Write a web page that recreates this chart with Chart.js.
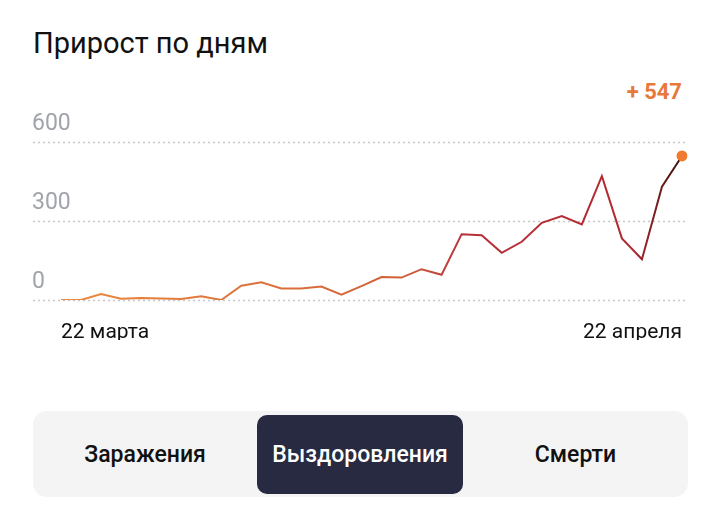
<!DOCTYPE html>
<html><head><meta charset="utf-8">
<script src="https://cdn.jsdelivr.net/npm/chart.js@4"></script>
<style>
body{margin:0;width:720px;height:520px;background:#fff;font-family:Roboto,"Noto Sans",sans-serif;position:relative;overflow:hidden}
#t{position:absolute;left:33px;top:26px;font-size:29px;color:#111}
#v{position:absolute;right:38px;top:79px;font-size:22px;font-weight:bold;color:#e8783a}
#c{position:absolute;left:0;top:0}
#p{position:absolute;left:33px;top:411px;width:655px;height:86px;background:#f4f4f5;border-radius:14px}
.b{position:absolute;top:4px;height:79px;line-height:79px;text-align:center;font-size:23px;font-weight:500;color:#111}
</style></head><body>
<div id="t">Прирост по дням</div>
<div id="v">+ 547</div>
<canvas id="c" width="720" height="340"></canvas>
<div id="p">
<div class="b" style="left:0;width:224px">Заражения</div>
<div class="b" style="left:224px;width:206px;background:#272a40;color:#fff;border-radius:10px">Выздоровления</div>
<div class="b" style="left:430px;width:225px">Смерти</div>
</div>
<script>
const categories=["22.03","23.03","24.03","25.03","26.03","27.03","28.03","29.03","30.03","31.03","01.04","02.04","03.04","04.04","05.04","06.04","07.04","08.04","09.04","10.04","11.04","12.04","13.04","14.04","15.04","16.04","17.04","18.04","19.04","20.04","21.04","22.04"];
const values=[0,0,23,5,8,6,4,14,0,54,67,44,44,51,20,53,87,85,117,96,250,246,179,221,293,319,287,470,234,155,430,547];
const yTicks=[0,300,600];
const xLabels={0:"22 марта",31:"22 апреля"};
const deco={id:'deco',beforeDatasetsDraw(ch){const c=ch.ctx,y=ch.scales.y;c.save();c.strokeStyle='#c8c8cc';c.lineWidth=1.5;c.setLineDash([2,3]);
yTicks.forEach(t=>{const py=y.getPixelForValue(t);c.beginPath();c.moveTo(33,py+0.5);c.lineTo(688,py+0.5);c.stroke();});c.restore();},
afterDraw(ch){const c=ch.ctx,y=ch.scales.y,x=ch.scales.x;c.save();c.font='23px Roboto';c.fillStyle='#a0a4ab';c.textBaseline='bottom';
yTicks.forEach(t=>c.fillText(String(t),32,y.getPixelForValue(t)-6));
c.fillStyle='#111';c.font='21px Roboto';c.textBaseline='middle';
for(const k in xLabels){const px=x.getPixelForValue(+k);c.textAlign=k==0?'left':'right';c.fillText(xLabels[k],k==0?px:px,333);}c.restore();}};
new Chart(document.getElementById('c'),{type:'line',data:{labels:categories,datasets:[{data:values,borderWidth:2,tension:0,
borderColor(ctx){const a=ctx.chart.chartArea;if(!a)return '#c33';const g=ctx.chart.ctx.createLinearGradient(a.left,0,a.right,0);g.addColorStop(0,'#ec8a3c');g.addColorStop(0.55,'#d0603a');g.addColorStop(0.65,'#b8303a');g.addColorStop(0.92,'#b02a30');g.addColorStop(1,'#3a1410');return g;},
pointRadius:values.map((v,i)=>i===values.length-1?5.5:0),pointBackgroundColor:'#ef7a30',pointBorderWidth:0}]},
options:{responsive:false,animation:false,layout:{padding:{left:61,right:38,top:142,bottom:40}},
plugins:{legend:{display:false},tooltip:{enabled:false}},
scales:{x:{display:false},y:{display:false,min:0,max:600}}},plugins:[deco]});
</script></body></html>
